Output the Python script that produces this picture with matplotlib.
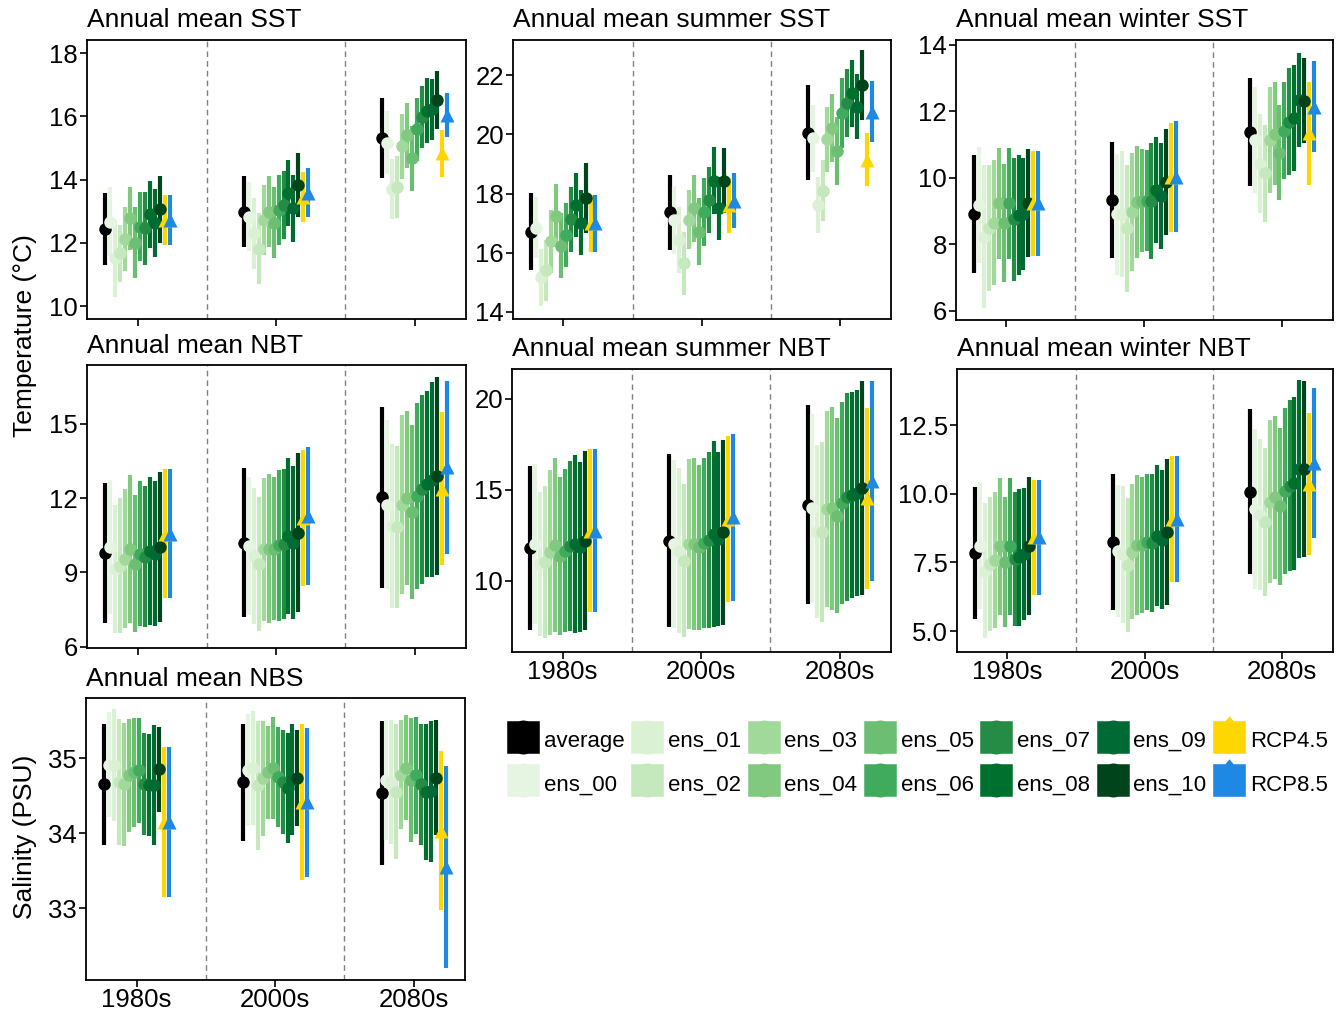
import numpy as np
import matplotlib
matplotlib.use('Agg')
import matplotlib.pyplot as plt
from matplotlib.lines import Line2D
from matplotlib.path import Path

plt.rcParams['font.family'] = ['Liberation Sans', 'DejaVu Sans']

periods = ['1980s', '2000s', '2080s']
members = ['average'] + ['ens_%02d' % i for i in range(11)] + ['RCP4.5', 'RCP8.5']

# rows = periods, columns = members (average, ens_00..ens_10, RCP4.5, RCP8.5)
sst_mean = [
    [12.44, 12.67, 11.51, 11.67, 12.12, 12.77, 12.01, 12.51, 12.46, 12.90, 12.62, 13.06, 12.72, 12.72],
    [12.99, 12.83, 12.30, 11.82, 12.72, 12.99, 12.64, 13.04, 13.20, 13.57, 13.09, 13.83, 13.46, 13.59],
    [15.31, 15.17, 13.69, 13.78, 15.06, 15.41, 14.67, 15.59, 15.99, 16.18, 16.22, 16.52, 14.83, 16.04],
]
sst_sd = [
    [1.13, 1.10, 1.21, 0.90, 1.00, 1.00, 1.13, 1.10, 1.16, 1.05, 1.08, 1.07, 0.79, 0.79],
    [1.13, 1.10, 1.13, 1.13, 1.10, 1.13, 1.13, 1.10, 1.08, 1.05, 1.07, 1.00, 0.79, 0.77],
    [1.27, 1.00, 0.95, 0.98, 1.03, 1.03, 1.03, 1.00, 0.98, 1.03, 0.95, 0.92, 0.74, 0.69],
]
sst_sum_mean = [
    [16.71, 16.85, 15.17, 15.40, 16.38, 17.25, 16.24, 16.60, 17.13, 17.61, 17.02, 17.84, 17.00, 17.00],
    [17.36, 17.11, 16.43, 15.64, 17.11, 17.50, 16.71, 17.36, 17.78, 18.44, 17.50, 18.44, 17.61, 17.76],
    [20.06, 19.87, 17.61, 18.10, 19.84, 20.20, 19.44, 20.71, 21.07, 21.39, 20.94, 21.67, 19.14, 20.77],
]
sst_sum_sd = [
    [1.30, 1.04, 0.96, 1.04, 1.07, 1.07, 1.10, 1.07, 1.10, 1.07, 1.10, 1.18, 0.96, 0.96],
    [1.28, 1.15, 1.13, 1.07, 1.00, 1.13, 1.13, 1.15, 1.10, 1.13, 1.07, 1.10, 0.93, 0.93],
    [1.60, 1.13, 0.96, 1.04, 1.10, 1.15, 1.15, 1.18, 1.15, 1.13, 1.10, 1.18, 0.90, 1.04],
]
sst_win_mean = [
    [8.91, 9.18, 8.23, 8.50, 8.65, 9.23, 8.65, 9.23, 8.75, 8.88, 8.91, 9.25, 9.23, 9.23],
    [9.33, 8.91, 8.91, 8.48, 8.98, 9.28, 9.31, 9.31, 9.31, 9.63, 9.45, 9.88, 10.01, 10.03],
    [11.37, 11.14, 10.43, 10.13, 11.14, 11.32, 10.75, 11.42, 11.69, 11.79, 12.34, 12.32, 11.34, 12.14],
]
sst_win_sd = [
    [1.78, 1.75, 2.15, 1.90, 1.88, 1.68, 1.78, 1.68, 1.85, 1.80, 1.68, 1.62, 1.58, 1.58],
    [1.75, 1.82, 1.90, 1.90, 1.78, 1.68, 1.55, 1.52, 1.75, 1.60, 1.60, 1.60, 1.65, 1.67],
    [1.63, 1.60, 1.50, 1.45, 1.60, 1.55, 1.43, 1.45, 1.60, 1.60, 1.40, 1.28, 1.55, 1.36],
]
nbt_mean = [
    [9.78, 10.03, 9.13, 9.27, 9.56, 9.94, 9.36, 9.76, 9.63, 9.87, 9.76, 10.03, 10.56, 10.56],
    [10.20, 10.07, 9.67, 9.33, 9.94, 9.96, 9.96, 10.10, 10.14, 10.47, 10.20, 10.61, 11.21, 11.27],
    [12.04, 11.74, 10.87, 10.83, 11.74, 12.01, 11.45, 12.08, 12.35, 12.57, 12.75, 12.88, 12.37, 13.24],
]
nbt_sd = [
    [2.83, 2.70, 2.58, 2.72, 2.81, 3.00, 2.76, 2.91, 2.84, 3.00, 2.91, 3.03, 2.61, 2.61],
    [3.00, 2.80, 2.74, 2.71, 2.88, 3.01, 2.88, 3.05, 3.03, 3.15, 3.08, 3.21, 2.74, 2.79],
    [3.65, 3.40, 3.30, 3.28, 3.61, 3.50, 3.51, 3.75, 3.80, 3.75, 3.92, 4.00, 3.09, 3.49],
]
nbt_sum_mean = [
    [11.81, 12.03, 10.93, 11.06, 11.58, 12.00, 11.36, 11.67, 11.94, 12.03, 11.85, 12.22, 12.77, 12.77],
    [12.22, 12.03, 11.67, 11.12, 12.03, 12.03, 11.85, 12.09, 12.25, 12.58, 12.31, 12.67, 13.41, 13.50],
    [14.19, 14.00, 12.71, 12.71, 13.96, 13.99, 13.59, 14.29, 14.60, 14.73, 14.84, 15.11, 14.54, 15.51],
]
nbt_sum_sd = [
    [4.53, 4.40, 3.94, 4.17, 4.53, 4.78, 4.35, 4.49, 4.67, 4.87, 4.67, 4.92, 4.49, 4.49],
    [4.73, 4.60, 4.53, 4.21, 4.67, 4.74, 4.53, 4.67, 4.83, 5.13, 4.79, 5.10, 4.58, 4.58],
    [5.47, 5.20, 4.76, 4.95, 5.40, 5.59, 5.36, 5.56, 5.72, 5.68, 5.68, 5.86, 4.96, 5.49],
]
nbt_win_mean = [
    [7.84, 8.11, 7.20, 7.44, 7.58, 8.08, 7.52, 8.08, 7.62, 7.68, 7.80, 8.11, 8.41, 8.41],
    [8.23, 7.92, 7.80, 7.40, 7.89, 8.14, 8.14, 8.23, 8.20, 8.47, 8.33, 8.62, 9.08, 9.08],
    [10.07, 9.44, 9.24, 8.96, 9.71, 9.87, 9.54, 10.11, 10.29, 10.38, 10.90, 10.90, 10.35, 11.10],
]
nbt_win_sd = [
    [2.40, 2.30, 2.47, 2.45, 2.48, 2.50, 2.37, 2.50, 2.45, 2.50, 2.41, 2.51, 2.09, 2.10],
    [2.47, 2.40, 2.49, 2.43, 2.46, 2.54, 2.47, 2.47, 2.51, 2.57, 2.53, 2.66, 2.28, 2.29],
    [3.00, 2.90, 2.75, 2.70, 2.96, 2.97, 2.85, 3.02, 3.11, 3.15, 3.25, 3.20, 2.58, 2.73],
]
nbs_mean = [
    [34.65, 34.91, 34.91, 34.68, 34.65, 34.77, 34.81, 34.84, 34.65, 34.64, 34.64, 34.85, 34.15, 34.15],
    [34.68, 34.84, 34.87, 34.64, 34.73, 34.81, 34.87, 34.75, 34.68, 34.60, 34.71, 34.73, 34.41, 34.41],
    [34.54, 34.71, 34.68, 34.55, 34.78, 34.87, 34.71, 34.77, 34.65, 34.55, 34.56, 34.74, 34.03, 33.55],
]
nbs_sd = [
    [0.81, 0.70, 0.75, 0.84, 0.82, 0.75, 0.73, 0.70, 0.68, 0.68, 0.80, 0.57, 1.00, 1.00],
    [0.78, 0.75, 0.76, 0.86, 0.77, 0.62, 0.68, 0.67, 0.69, 0.73, 0.74, 0.64, 1.04, 0.99],
    [0.96, 0.80, 0.83, 0.90, 0.73, 0.70, 0.83, 0.78, 0.81, 0.91, 0.94, 0.77, 1.06, 1.35],
]

colors = ['black',
          '#e6f5e1', '#daf1d4', '#c5e8bd', '#a1d99b', '#80c97f', '#6cbf72',
          '#41ab5d', '#258c46', '#00702f', '#006a35', '#00441b',
          '#ffd700', '#1e88e5']
markers = ['o'] * 12 + ['^', '^']

# title, means, sds, rect (fig fraction), ylim, yticks, tick format, x labels shown
panels = [
    ('Annual mean SST', sst_mean, sst_sd, [0.0649, 0.6842, 0.2828, 0.2762], (9.59, 18.42), [10, 12, 14, 16, 18], '%d', False),
    ('Annual mean summer SST', sst_sum_mean, sst_sum_sd, [0.3828, 0.6842, 0.2821, 0.2762], (13.76, 23.19), [14, 16, 18, 20, 22], '%d', False),
    ('Annual mean winter SST', sst_win_mean, sst_win_sd, [0.7134, 0.6832, 0.2813, 0.2772], (5.73, 14.14), [6, 8, 10, 12, 14], '%d', False),
    ('Annual mean NBT', nbt_mean, nbt_sd, [0.0649, 0.3584, 0.2828, 0.2802], (5.95, 17.37), [6, 9, 12, 15], '%d', False),
    ('Annual mean summer NBT', nbt_sum_mean, nbt_sum_sd, [0.3821, 0.3545, 0.2828, 0.2802], (6.10, 21.65), [10, 15, 20], '%d', True),
    ('Annual mean winter NBT', nbt_win_mean, nbt_win_sd, [0.7142, 0.3545, 0.2806, 0.2802], (4.24, 14.54), [5.0, 7.5, 10.0, 12.5], '%.1f', True),
    ('Annual mean NBS', nbs_mean, nbs_sd, [0.0642, 0.0297, 0.2828, 0.2792], (32.04, 35.80), [33, 34, 35], '%d', True),
]

fig = plt.figure(figsize=(13.4, 10.1), dpi=100)

n = len(members)
offsets = (np.arange(n) + 0.5) / n * 0.5 - 0.25

for title, mean, sd, rect, ylim, yticks, fmt, xlab in panels:
    ax = fig.add_axes(rect)
    mean = np.array(mean)
    sd = np.array(sd)
    for j in range(len(periods)):
        for i in range(n):
            x = j + 1 + offsets[i]
            ax.vlines(x, mean[j, i] - sd[j, i], mean[j, i] + sd[j, i],
                      color=colors[i], lw=3.0, zorder=2)
    for j in range(len(periods)):
        for i in range(n):
            x = j + 1 + offsets[i]
            ms = 10 if markers[i] == '^' else 9
            ax.plot(x, mean[j, i], marker=markers[i], ms=ms, color=colors[i],
                    mec='none', ls='', zorder=3)

    for xv in (1.5, 2.5):
        ax.axvline(xv, color='#808080', lw=1.0, ls=(0, (4, 3)), zorder=1)

    ax.set_xlim(0.635, 3.37)
    ax.set_ylim(*ylim)
    ax.set_xticks([1, 2, 3])
    ax.set_xticklabels(periods)
    ax.set_yticks(yticks)
    ax.set_yticklabels([fmt % v for v in yticks])
    ax.tick_params(direction='out', length=5, width=1.2, labelsize=18.5,
                   colors='black', pad=1.5)
    ax.tick_params(axis='x', pad=0.5)
    if not xlab:
        ax.tick_params(labelbottom=False)
    for s in ax.spines.values():
        s.set_linewidth(1.3)
        s.set_color('black')
    ax.set_title(title, loc='left', fontsize=19, pad=9)

fig.text(0.019, 1 - 336 / 1010, 'Temperature (°C)', rotation=90,
         ha='center', va='center', fontsize=19)
fig.text(0.019, 1 - 837 / 1010, 'Salinity (PSU)', rotation=90,
         ha='center', va='center', fontsize=19)

# legend keys: filled square with the point shape peeking out
bump = Path([(-1, -1), (-0.3, -1), (0, -1.05), (0.3, -1), (1, -1), (1, 1),
             (0.3, 1), (0, 1.05), (-0.3, 1), (-1, 1), (-1, -1)])
peak = Path([(-1, -1), (1, -1), (1, 1), (0.25, 1), (0, 1.3), (-0.25, 1),
             (-1, 1), (-1, -1)])
handles = []
for i in range(n):
    if markers[i] == '^':
        h = Line2D([], [], marker=peak, ms=30.5, color=colors[i], mec='none', ls='')
    else:
        h = Line2D([], [], marker=bump, ms=24.6, color=colors[i], mec='none', ls='')
    handles.append(h)

fig.legend(handles, members, loc='upper left', bbox_to_anchor=(0.378, 0.281),
           ncol=7, frameon=False, fontsize=16, handlelength=1.5,
           handleheight=1.5, handletextpad=0.18, columnspacing=0.27,
           labelspacing=0.75, borderaxespad=0, borderpad=0)

fig.savefig('out.png', dpi=100)
